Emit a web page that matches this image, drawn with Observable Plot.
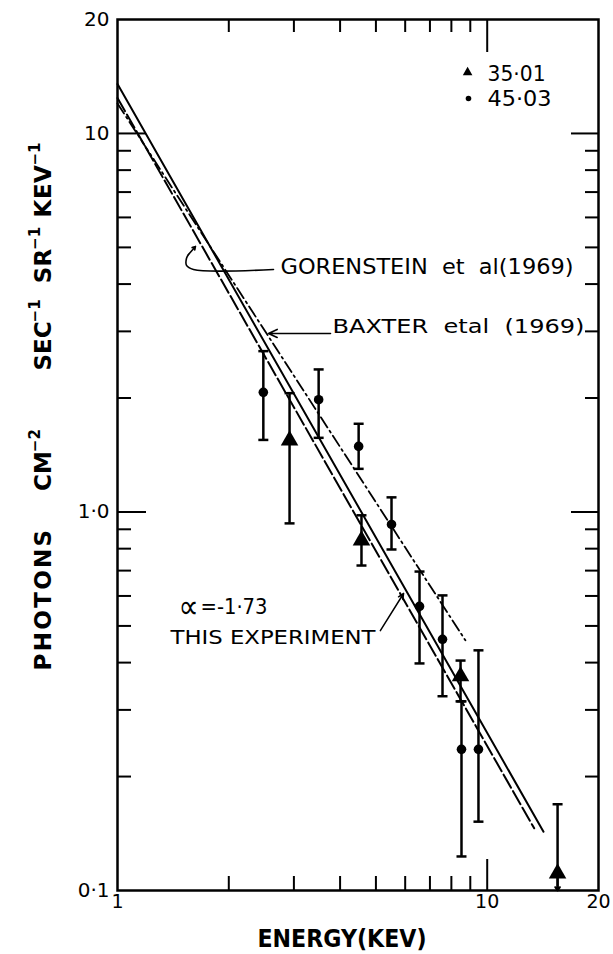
<!DOCTYPE html>
<html><head><meta charset="utf-8">
<script src="https://cdn.jsdelivr.net/npm/d3@7"></script>
<script src="https://cdn.jsdelivr.net/npm/@observablehq/plot@0.6"></script>
<style>body{margin:0;background:#fff}</style>
</head><body><div id="chart"></div>
<script>
// ---- data ----
// run 45·03 (circles)
const circE  = [2.48, 3.50, 4.49, 5.51, 6.56, 7.57, 8.52, 9.47];
const circV  = [2.07, 1.98, 1.49, 0.927, 0.563, 0.461, 0.236, 0.236];
const circHi = [2.66, 2.38, 1.71, 1.093, 0.696, 0.602, 0.316, 0.431];
const circLo = [1.55, 1.57, 1.30, 0.796, 0.398, 0.326, 0.123, 0.152];
// run 35·01 (triangles)
const triE  = [2.92, 4.57, 8.47, 15.5];
const triV  = [1.545, 0.841, 0.368, 0.111];
const triHi = [2.06, 0.98, 0.405, 0.169];
const triLo = [0.933, 0.722, 0.316, 0.1];
const triUpperLimit = [false, false, false, true];
// fitted power laws (end points)
const solidE = [1, 14.2],  solidF = [13.5, 0.143];   // this experiment, alpha = -1.73
const dashE  = [1, 13.4],  dashF  = [12.4, 0.146];   // Gorenstein et al (1969)
const ddE    = [1, 8.73],  ddF    = [12.0, 0.458];   // Baxter et al (1969)
// ticks
const xMinor = [2,3,4,5,6,7,8,9], xMajor = [10];
const yMinor = [0.2,0.3,0.4,0.5,0.6,0.7,0.8,0.9,2,3,4,5,6,7,8,9], yMajor = [1,10];
const xTickLabels = {1:"1", 10:"10", 20:"20"};
const yTickLabels = {0.1:"0·1", 1:"1·0", 10:"10", 20:"20"};
// legend
const legendLabels = ["35·01", "45·03"];
const legendSym = [{E:8.85, v:14.5, s:"triangle"}, {E:8.9, v:12.37, s:"circle"}];
const legendTxt = [{E:10.02, v:14.32, t:legendLabels[0]}, {E:10.02, v:12.3, t:legendLabels[1]}];
// annotations
const gorText = {E:2.76, v:4.43, t:"GORENSTEIN  et  al(1969)"};
const gorHook = [{E:2.642,v:4.37},{E:1.605,v:4.37},{E:1.537,v:4.48},{E:1.537,v:4.68},{E:1.556,v:4.79}];
const gorHead = {E1:1.556, v1:4.79, E2:1.625, v2:5.03};
const baxText = {E:3.816, v:3.09, t:"BAXTER  etal  (1969)"};
const baxArrow = {E1:3.768, v1:2.962, E2:2.561, v2:2.962};
const alphaSym = {E:1.462, v:0.562, t:"∝"};
const alphaText = {E:1.677, v:0.559, t:"=-1·73"};
const expText = {E:1.391, v:0.466, t:"THIS EXPERIMENT"};
const expPointer = {E1:5.14, v1:0.486, E2:5.94, v2:0.609};
// axis titles
const xTitle = "ENERGY(KEV)";
const yTitleWords = ["PHOTONS", "CM", "SEC", "SR", "KEV"];
const yTitleSups = ["", "−2", "−1", "−1", "−1"];

// ---- build tables ----
const circles = circE.map((E,i)=>({E, v:circV[i], hi:circHi[i], lo:circLo[i]}));
const tris = triE.map((E,i)=>({E, v:triV[i], hi:triHi[i], lo:triLo[i], ul:triUpperLimit[i]}));
const caps = [
  ...circles.flatMap(d=>[{E:d.E, v:d.hi},{E:d.E, v:d.lo}]),
  ...tris.flatMap(d=>d.ul ? [{E:d.E, v:d.hi}] : [{E:d.E, v:d.hi},{E:d.E, v:d.lo}])
];
const limits = tris.filter(d=>d.ul);
const mk = (E,F,name)=>E.map((e,i)=>({E:e, F:F[i], name}));

const capSymbol = {draw(ctx, size){ const r = Math.sqrt(size/Math.PI); ctx.moveTo(-r,0); ctx.lineTo(r,0); }};
const F = "DejaVu Sans Condensed, DejaVu Sans, sans-serif";

const plot = Plot.plot({
  width: 613, height: 954,
  marginLeft: 117, marginRight: 15, marginTop: 19, marginBottom: 64,
  x: {type:"log", domain:[1,20], axis:null},
  y: {type:"log", domain:[0.1,20], axis:null},
  style: {fontFamily: F, background:"white", color:"black"},
  marks: [
    Plot.frame({stroke:"black", strokeWidth:2.5}),
    // inward ticks
    Plot.axisY({anchor:"left", ticks:yMinor, tickSize:-14, tickFormat:()=>"", strokeWidth:2, label:null}),
    Plot.axisY({anchor:"left", ticks:yMajor, tickSize:-29, tickFormat:()=>"", strokeWidth:2, label:null}),
    Plot.axisY({anchor:"right", ticks:yMinor, tickSize:-14, tickFormat:()=>"", strokeWidth:2, label:null}),
    Plot.axisY({anchor:"right", ticks:yMajor, tickSize:-28, tickFormat:()=>"", strokeWidth:2, label:null}),
    Plot.axisX({anchor:"bottom", ticks:xMinor, tickSize:-14, tickFormat:()=>"", strokeWidth:2, label:null}),
    Plot.axisX({anchor:"bottom", ticks:xMajor, tickSize:-31, tickFormat:()=>"", strokeWidth:2, label:null}),
    Plot.axisX({anchor:"top", ticks:xMinor, tickSize:-12, tickFormat:()=>"", strokeWidth:2, label:null}),
    Plot.axisX({anchor:"top", ticks:xMajor, tickSize:-32, tickFormat:()=>"", strokeWidth:2, label:null}),
    // tick labels
    Plot.axisY({anchor:"left", ticks:[0.1,1,10,20], tickSize:0, tickPadding:8, fontSize:20,
      tickFormat:d=>yTickLabels[d], label:null, fontFamily:"DejaVu Sans"}),
    Plot.axisX({anchor:"bottom", ticks:[1,10,20], tickSize:0, tickPadding:4, fontSize:19,
      tickFormat:d=>xTickLabels[d], label:null, fontFamily:"DejaVu Sans"}),
    // power laws
    Plot.line(mk(solidE, solidF, "solid"), {x:"E", y:"F", stroke:"black", strokeWidth:2}),
    Plot.line(mk(dashE, dashF, "dash"), {x:"E", y:"F", stroke:"black", strokeWidth:2, strokeDasharray:"15,4"}),
    Plot.line(mk(ddE, ddF, "dd"), {x:"E", y:"F", stroke:"black", strokeWidth:1.8, strokeDasharray:"12,4,2,4"}),
    // error bars
    Plot.ruleX(circles, {x:"E", y1:"lo", y2:"hi", stroke:"black", strokeWidth:2.5}),
    Plot.ruleX(tris, {x:"E", y1:"lo", y2:"hi", stroke:"black", strokeWidth:2.5}),
    Plot.dot(caps, {x:"E", y:"v", symbol:capSymbol, r:5, stroke:"black", strokeWidth:2.5, fill:"none"}),
    Plot.arrow(limits, {x1:"E", y1:d=>d.v*0.97, x2:"E", y2:0.1, stroke:"black", strokeWidth:2, headLength:7, headAngle:70}),
    // points
    Plot.dot(circles, {x:"E", y:"v", r:4.8, fill:"black", stroke:"none"}),
    Plot.dot(tris, {x:"E", y:"v", symbol:"triangle", r:6.5, fill:"black", stroke:"none"}),
    // legend
    Plot.dot(legendSym, {x:"E", y:"v", symbol:"s", r:d=>d.s==="triangle"?6.5:4, fill:"black", stroke:"none"}),
    Plot.text(legendTxt, {x:"E", y:"v", text:"t", textAnchor:"start", fontSize:22}),
    // annotations
    Plot.text([gorText], {x:"E", y:"v", text:"t", textAnchor:"start", fontSize:22}),
    Plot.line(gorHook, {x:"E", y:"v", stroke:"black", strokeWidth:1.6, curve:"catmull-rom"}),
    Plot.arrow([gorHead], {x1:"E1", y1:"v1", x2:"E2", y2:"v2", stroke:"black", strokeWidth:1.6, headLength:9, headAngle:60}),
    Plot.text([baxText], {x:"E", y:"v", text:"t", textAnchor:"start", fontSize:19}),
    Plot.arrow([baxArrow], {x1:"E1", y1:"v1", x2:"E2", y2:"v2", stroke:"black", strokeWidth:1.6, headLength:9, headAngle:50}),
    Plot.text([alphaSym], {x:"E", y:"v", text:"t", textAnchor:"start", fontSize:34, fontFamily:"DejaVu Sans"}),
    Plot.text([alphaText], {x:"E", y:"v", text:"t", textAnchor:"start", fontSize:21}),
    Plot.text([expText], {x:"E", y:"v", text:"t", textAnchor:"start", fontSize:20}),
    Plot.arrow([expPointer], {x1:"E1", y1:"v1", x2:"E2", y2:"v2", stroke:"black", strokeWidth:1.5, headLength:6, headAngle:50})
  ]
});
document.getElementById("chart").append(plot);

// fit text widths to the reference
const widths = {"GORENSTEIN  et  al(1969)":293, "BAXTER  etal  (1969)":252, "∝":20, "=-1·73":67,
  "THIS EXPERIMENT":205, "35·01":58, "45·03":64};
d3.select(plot).selectAll("text").each(function(){
  const w = widths[this.textContent];
  if (w) { this.setAttribute("textLength", w); this.setAttribute("lengthAdjust", "spacingAndGlyphs"); }
});

// axis titles
const svg = d3.select(plot);
svg.append("text").attr("x", 342).attr("y", 947).attr("text-anchor","middle")
  .attr("font-family", "DejaVu Sans").attr("font-weight","bold").attr("font-size", 25)
  .attr("textLength", 169).attr("lengthAdjust","spacingAndGlyphs").text(xTitle);
const yCenters = [599, 460, 335, 255, 180];
const ySpacing = [2.3, 0, 0, 0, 0.5];
yTitleWords.forEach((w, i) => {
  const t = svg.append("text").attr("transform", `translate(51,${yCenters[i]}) rotate(-90)`)
    .attr("text-anchor","middle").attr("font-family", "DejaVu Sans").attr("font-weight","bold")
    .attr("font-size", 23).attr("letter-spacing", ySpacing[i]);
  t.append("tspan").text(w);
  if (yTitleSups[i]) t.append("tspan").attr("dx", -1).attr("dy", -11).attr("font-size", 15)
    .attr("font-weight","bold").attr("letter-spacing", 0).text(yTitleSups[i]);
});
</script>
</body></html>
